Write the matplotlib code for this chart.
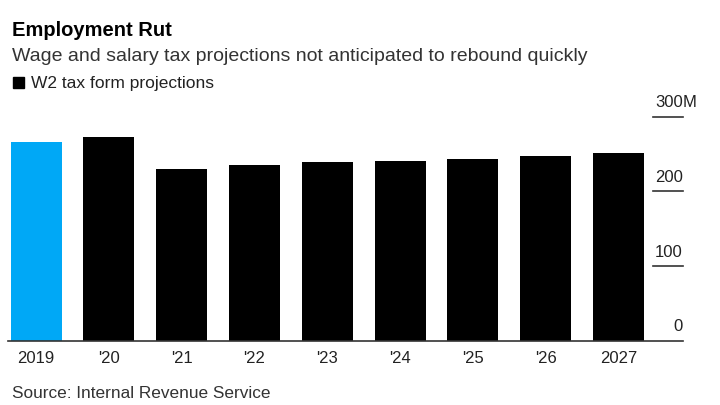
"""Employment Rut: W2 tax form projections bar chart."""

import matplotlib.pyplot as plt
import matplotlib.transforms as mtransforms

plt.rcParams["font.family"] = ["Liberation Sans", "DejaVu Sans"]

# ---------------------------------------------------------------------------
# Data (millions of W2 forms)
# ---------------------------------------------------------------------------
years = ["2019", "'20", "'21", "'22", "'23", "'24", "'25", "'26", "2027"]
forms = [266, 273, 230, 236, 240, 241, 243, 247, 252]
y_ticks = [0, 100, 200, 300]
y_tick_labels = ["0", "100", "200", "300"]

BLUE = "#00a8f6"
TEXT = "#222222"
W, H = 720, 405

fig = plt.figure(figsize=(W / 100, H / 100), dpi=100)
ax = fig.add_axes([8 / W, 1 - 341 / H, 675 / W, (341 - 116.7) / H])

x = range(len(years))
colors = [BLUE] + ["black"] * (len(years) - 1)
ax.bar(x, forms, width=0.7, color=colors, zorder=2)

ax.set_xlim(-0.385, 8.887)
ax.set_ylim(0, 300)
for side in ("top", "right", "left"):
    ax.spines[side].set_visible(False)
ax.spines["bottom"].set_color("#333333")
ax.spines["bottom"].set_linewidth(1.2)
ax.spines["bottom"].set_zorder(3)
ax.set_yticks([])
ax.set_xticks(list(x))
ax.set_xticklabels(years, fontsize=12, color=TEXT)
ax.tick_params(axis="x", length=0, pad=7)

# right-hand value labels sitting on short rule lines
blend = mtransforms.blended_transform_factory(ax.transAxes, ax.transData)
above = mtransforms.offset_copy(blend, fig=fig, x=0, y=7, units="points")
for val, lab in zip(y_ticks, y_tick_labels):
    if val > 0:
        ax.plot([0.956, 1.0], [val, val], transform=blend, color="#333333",
                lw=1.2, clip_on=False)
    ax.text(1.0, val, lab, transform=above, ha="right", va="baseline",
            fontsize=12, color=TEXT)
    if val == y_ticks[-1]:
        ax.text(1.0, val, "M", transform=above, ha="left", va="baseline",
                fontsize=12, color=TEXT)

# titles and legend
fig.text(12 / W, 1 - 36 / H, "Employment Rut", fontsize=14.5,
         fontweight="bold", va="baseline")
fig.text(12 / W, 1 - 61 / H, "Wage and salary tax projections not "
         "anticipated to rebound quickly", fontsize=14, color="#333333",
         va="baseline")
fig.patches.append(plt.Rectangle((13 / W, 1 - 88 / H), 11 / W, 11 / H,
                                 color="black", transform=fig.transFigure))
fig.text(31 / W, 1 - 88 / H, "W2 tax form projections", fontsize=12.5,
         color=TEXT, va="baseline")

fig.text(12 / W, 1 - 398 / H, "Source: Internal Revenue Service",
         fontsize=12.4, color="#333333", va="baseline")

fig.savefig("out.png", dpi=100)
